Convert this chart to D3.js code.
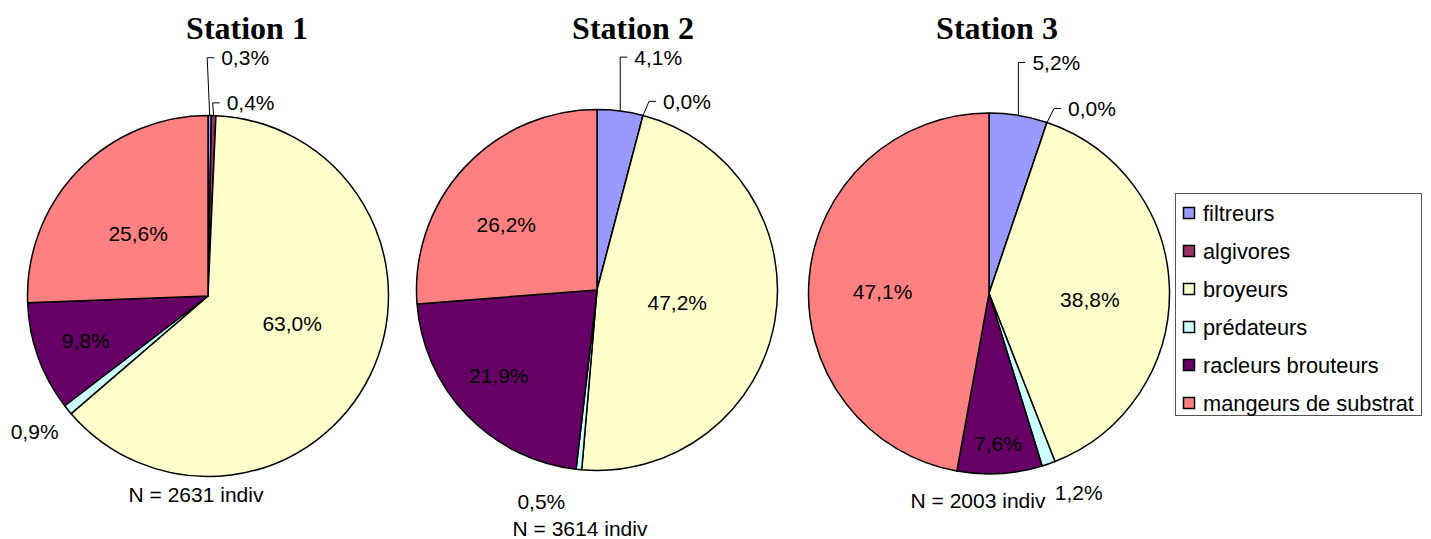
<!DOCTYPE html>
<html>
<head>
<meta charset="utf-8">
<script src="https://cdn.jsdelivr.net/npm/d3@7"></script>
<style>
  html, body { margin: 0; padding: 0; background: #fff; }
  svg { display: block; }
</style>
</head>
<body>
<svg id="chart" width="1431" height="539"></svg>
<script>
// Trophic groups (légende) and their fills
const categories = ["filtreurs", "algivores", "broyeurs", "prédateurs", "racleurs brouteurs", "mangeurs de substrat"];
const colors = ["#9999FF", "#993366", "#FFFFCC", "#CCFFFF", "#660066", "#FF8080"];

// Percentages per station
const stationNames = ["Station 1", "Station 2", "Station 3"];
const station1 = [0.3, 0.4, 63.0, 0.9, 9.8, 25.6];
const station2 = [4.1, 0.0, 47.2, 0.5, 21.9, 26.2];
const station3 = [5.2, 0.0, 38.8, 1.2, 7.6, 47.1];
const counts = [2631, 3614, 2003];

// Layout of each pie
const pieCenters = [[208, 296], [597, 290], [989, 293.5]];
const radius = 180.5;
const titleX = [247, 633, 997];
const countOffset = [[-12, 198], [-17, 238], [-11, 206.5]];

// Label placement per slice:
//  {in: [rFactor, dAngle]}   label inside / near the slice, polar around centre
//  {lead: [yFactor, dx]}     label above the pie with an elbow leader line
const labelPlacement = [
  [{lead: [1.32, -2.5]}, {lead: [1.07, -1]}, {in: [0.49, -8]}, {in: [1.22, 1]}, {in: [0.72, 0]}, {in: [0.52, -2]}],
  [{lead: [1.29, 0]}, {lead: [1.045, 6]}, {in: [0.45, -1]}, {in: [1.21, 9]}, {in: [0.72, 3]}, {in: [0.62, -7]}],
  [{lead: [1.28, 0]}, {lead: [1.025, 7]}, {in: [0.56, 5]}, {in: [1.21, -5]}, {in: [0.83, 0]}, {in: [0.59, -4]}]
];

const fmt = v => d3.format(".1f")(v).replace(".", ",") + "%";

const svg = d3.select("#chart");
const pie = d3.pie().sort(null).value(d => d);
const arc = d3.arc().innerRadius(0).outerRadius(radius);
const color = d3.scaleOrdinal().domain(categories).range(colors);

const series = [station1, station2, station3];
const rad = Math.PI / 180;
const sans = "'Liberation Sans', Arial, sans-serif";

series.forEach((values, si) => {
  const [cx, cy] = pieCenters[si];

  // Title
  svg.append("text")
    .attr("x", titleX[si]).attr("y", 39)
    .attr("text-anchor", "middle")
    .attr("font-family", "'Liberation Serif', 'Times New Roman', serif")
    .attr("font-weight", "bold")
    .attr("font-size", 32)
    .text(stationNames[si]);

  const g = svg.append("g").attr("transform", `translate(${cx},${cy})`);
  const arcs = pie(values);

  g.selectAll("path")
    .data(arcs)
    .join("path")
    .attr("d", arc)
    .attr("fill", (d, i) => color(categories[i]))
    .attr("stroke", "#000")
    .attr("stroke-width", 1.5)
    .attr("stroke-linejoin", "round");

  // Percentage labels
  arcs.forEach((d, i) => {
    const place = labelPlacement[si][i];
    const mid = (d.startAngle + d.endAngle) / 2;
    const text = fmt(values[i]);
    if (place.in) {
      const a = mid + place.in[1] * rad;
      const r = place.in[0] * radius;
      g.append("text")
        .attr("x", r * Math.sin(a))
        .attr("y", -r * Math.cos(a))
        .attr("text-anchor", "middle")
        .attr("dominant-baseline", "central")
        .attr("font-family", sans)
        .attr("font-size", 21)
        .attr("fill", "#000")
        .text(text);
    } else {
      const px = radius * Math.sin(mid);
      const py = -radius * Math.cos(mid);
      const ly = -place.lead[0] * radius;
      const ex = px + place.lead[1];
      g.append("polyline")
        .attr("points", `${px},${py} ${ex},${ly} ${ex + 7},${ly}`)
        .attr("fill", "none")
        .attr("stroke", "#000")
        .attr("stroke-width", 1);
      g.append("text")
        .attr("x", ex + 14)
        .attr("y", ly)
        .attr("dominant-baseline", "central")
        .attr("font-family", sans)
        .attr("font-size", 21)
        .attr("fill", "#000")
        .text(text);
    }
  });

  // Sample size
  svg.append("text")
    .attr("x", cx + countOffset[si][0])
    .attr("y", cy + countOffset[si][1])
    .attr("text-anchor", "middle")
    .attr("dominant-baseline", "central")
    .attr("font-family", sans)
    .attr("font-size", 21)
    .text(`N = ${counts[si]} indiv`);
});

// Legend
const legend = svg.append("g");
legend.append("rect")
  .attr("x", 1175.5).attr("y", 193.5)
  .attr("width", 246).attr("height", 222)
  .attr("fill", "#fff")
  .attr("stroke", "#555")
  .attr("stroke-width", 1);

const rowY = d3.scalePoint().domain(categories).range([213, 403]);
categories.forEach(c => {
  const y = rowY(c);
  legend.append("rect")
    .attr("x", 1183.5).attr("y", y - 5.5)
    .attr("width", 11).attr("height", 11)
    .attr("fill", color(c))
    .attr("stroke", "#000")
    .attr("stroke-width", 1.5);
  legend.append("text")
    .attr("x", 1203).attr("y", y)
    .attr("dominant-baseline", "central")
    .attr("font-family", sans)
    .attr("font-size", 21.8)
    .text(c);
});
</script>
</body>
</html>
